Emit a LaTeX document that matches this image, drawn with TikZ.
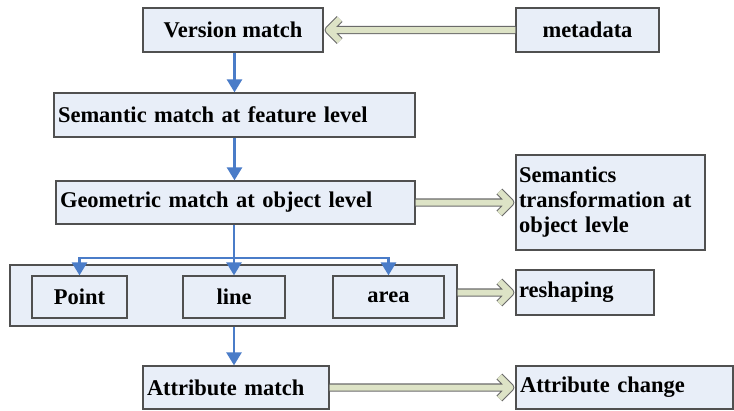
\documentclass[tikz,border=0pt]{standalone}
\usepackage{fontspec}
\setmainfont{Liberation Serif}
\usetikzlibrary{arrows.meta,calc}
\definecolor{boxfill}{HTML}{E8EEF8}
\definecolor{boxline}{HTML}{505050}
\definecolor{flow}{HTML}{4A7CC8}
\definecolor{hollow}{HTML}{DDE3C6}
\newcommand\fatarr[3]{%
  \draw[fatarrow] (#1) -- ($(#2)+(-5*#3,0)$)
    ($(#2)+(-16*#3,-11)$) -- ($(#2)+(-5*#3,0)$) -- ($(#2)+(-16*#3,11)$);}
\begin{document}
\begin{tikzpicture}[x=1pt,y=-1pt,
  box/.style={draw=boxline, fill=boxfill, line width=1.3pt,
    font=\bfseries\fontsize{22.5}{25}\selectfont, inner sep=0pt},
  leftbox/.style={box, inner xsep=4pt, align=left},
  flowarrow/.style={draw=flow, line width=2.6pt, -{Triangle[length=13pt,width=15pt]}},
  flowline/.style={draw=flow, line width=2.6pt},
  fatarrow/.style={draw=boxline!85, double=hollow, double distance=6pt, line width=1.1pt, line join=round}]
\useasboundingbox (0,0) rectangle (734,410);
\clip (0,0) rectangle (734,410);
\fill[white] (0,0) rectangle (734,410);

\node[box, minimum width=180pt, minimum height=44pt] (ver) at (233,30) {Version match};
\node[box, minimum width=143pt, minimum height=44pt] (meta) at (587.5,30) {metadata};
\node[leftbox, text width=353pt, minimum height=44pt] (sem) at (234.5,115) {Semantic match at feature level};
\node[leftbox, text width=351pt, minimum height=43pt] (geo) at (235.5,202.5) {Geometric match at object level};
\node[leftbox, inner xsep=3pt, text width=183pt, minimum height=95pt] (st) at (610.5,202.5) {Semantics\\transformation at\\object levle};
\node[box, minimum width=447pt, minimum height=61pt] (outer) at (233.5,295.5) {};
\node[box, minimum width=95pt, minimum height=42pt] (pt) at (79.5,297) {Point};
\node[box, minimum width=102pt, minimum height=42pt] (ln) at (234,297) {line};
\node[box, minimum width=111pt, minimum height=42pt] (ar) at (388.5,297) {area};
\node[leftbox, inner xsep=3pt, text width=132pt, minimum height=45pt] (resh) at (585,292.5) {reshaping};
\node[leftbox, text width=178pt, minimum height=43pt] (attr) at (236,387.5) {Attribute match};
\node[leftbox, text width=209pt, minimum height=43pt] (attrch) at (624.5,387.5) {Attribute change};

\coordinate (j) at (234,258);
\coordinate (reshsrc) at (resh.west -| outer.east);

\draw[flowarrow] (ver.south -| sem.north) -- (sem.north);
\draw[flowarrow] (sem.south) -- (geo.north -| sem.south);
\draw[flowline] (geo.south -| j) -- (j);
\draw[flowarrow] (j) -| (pt.north);
\draw[flowarrow] (j) -- (ln.north);
\draw[flowarrow] (j) -| (ar.north);
\draw[flowarrow] (outer.south -| ln.south) -- (attr.north -| ln.south);

\fatarr{meta.west}{ver.east}{-1}
\fatarr{geo.east}{st.west}{1}
\fatarr{reshsrc}{resh.west}{1}
\fatarr{attr.east}{attrch.west}{1}
\end{tikzpicture}
\end{document}
